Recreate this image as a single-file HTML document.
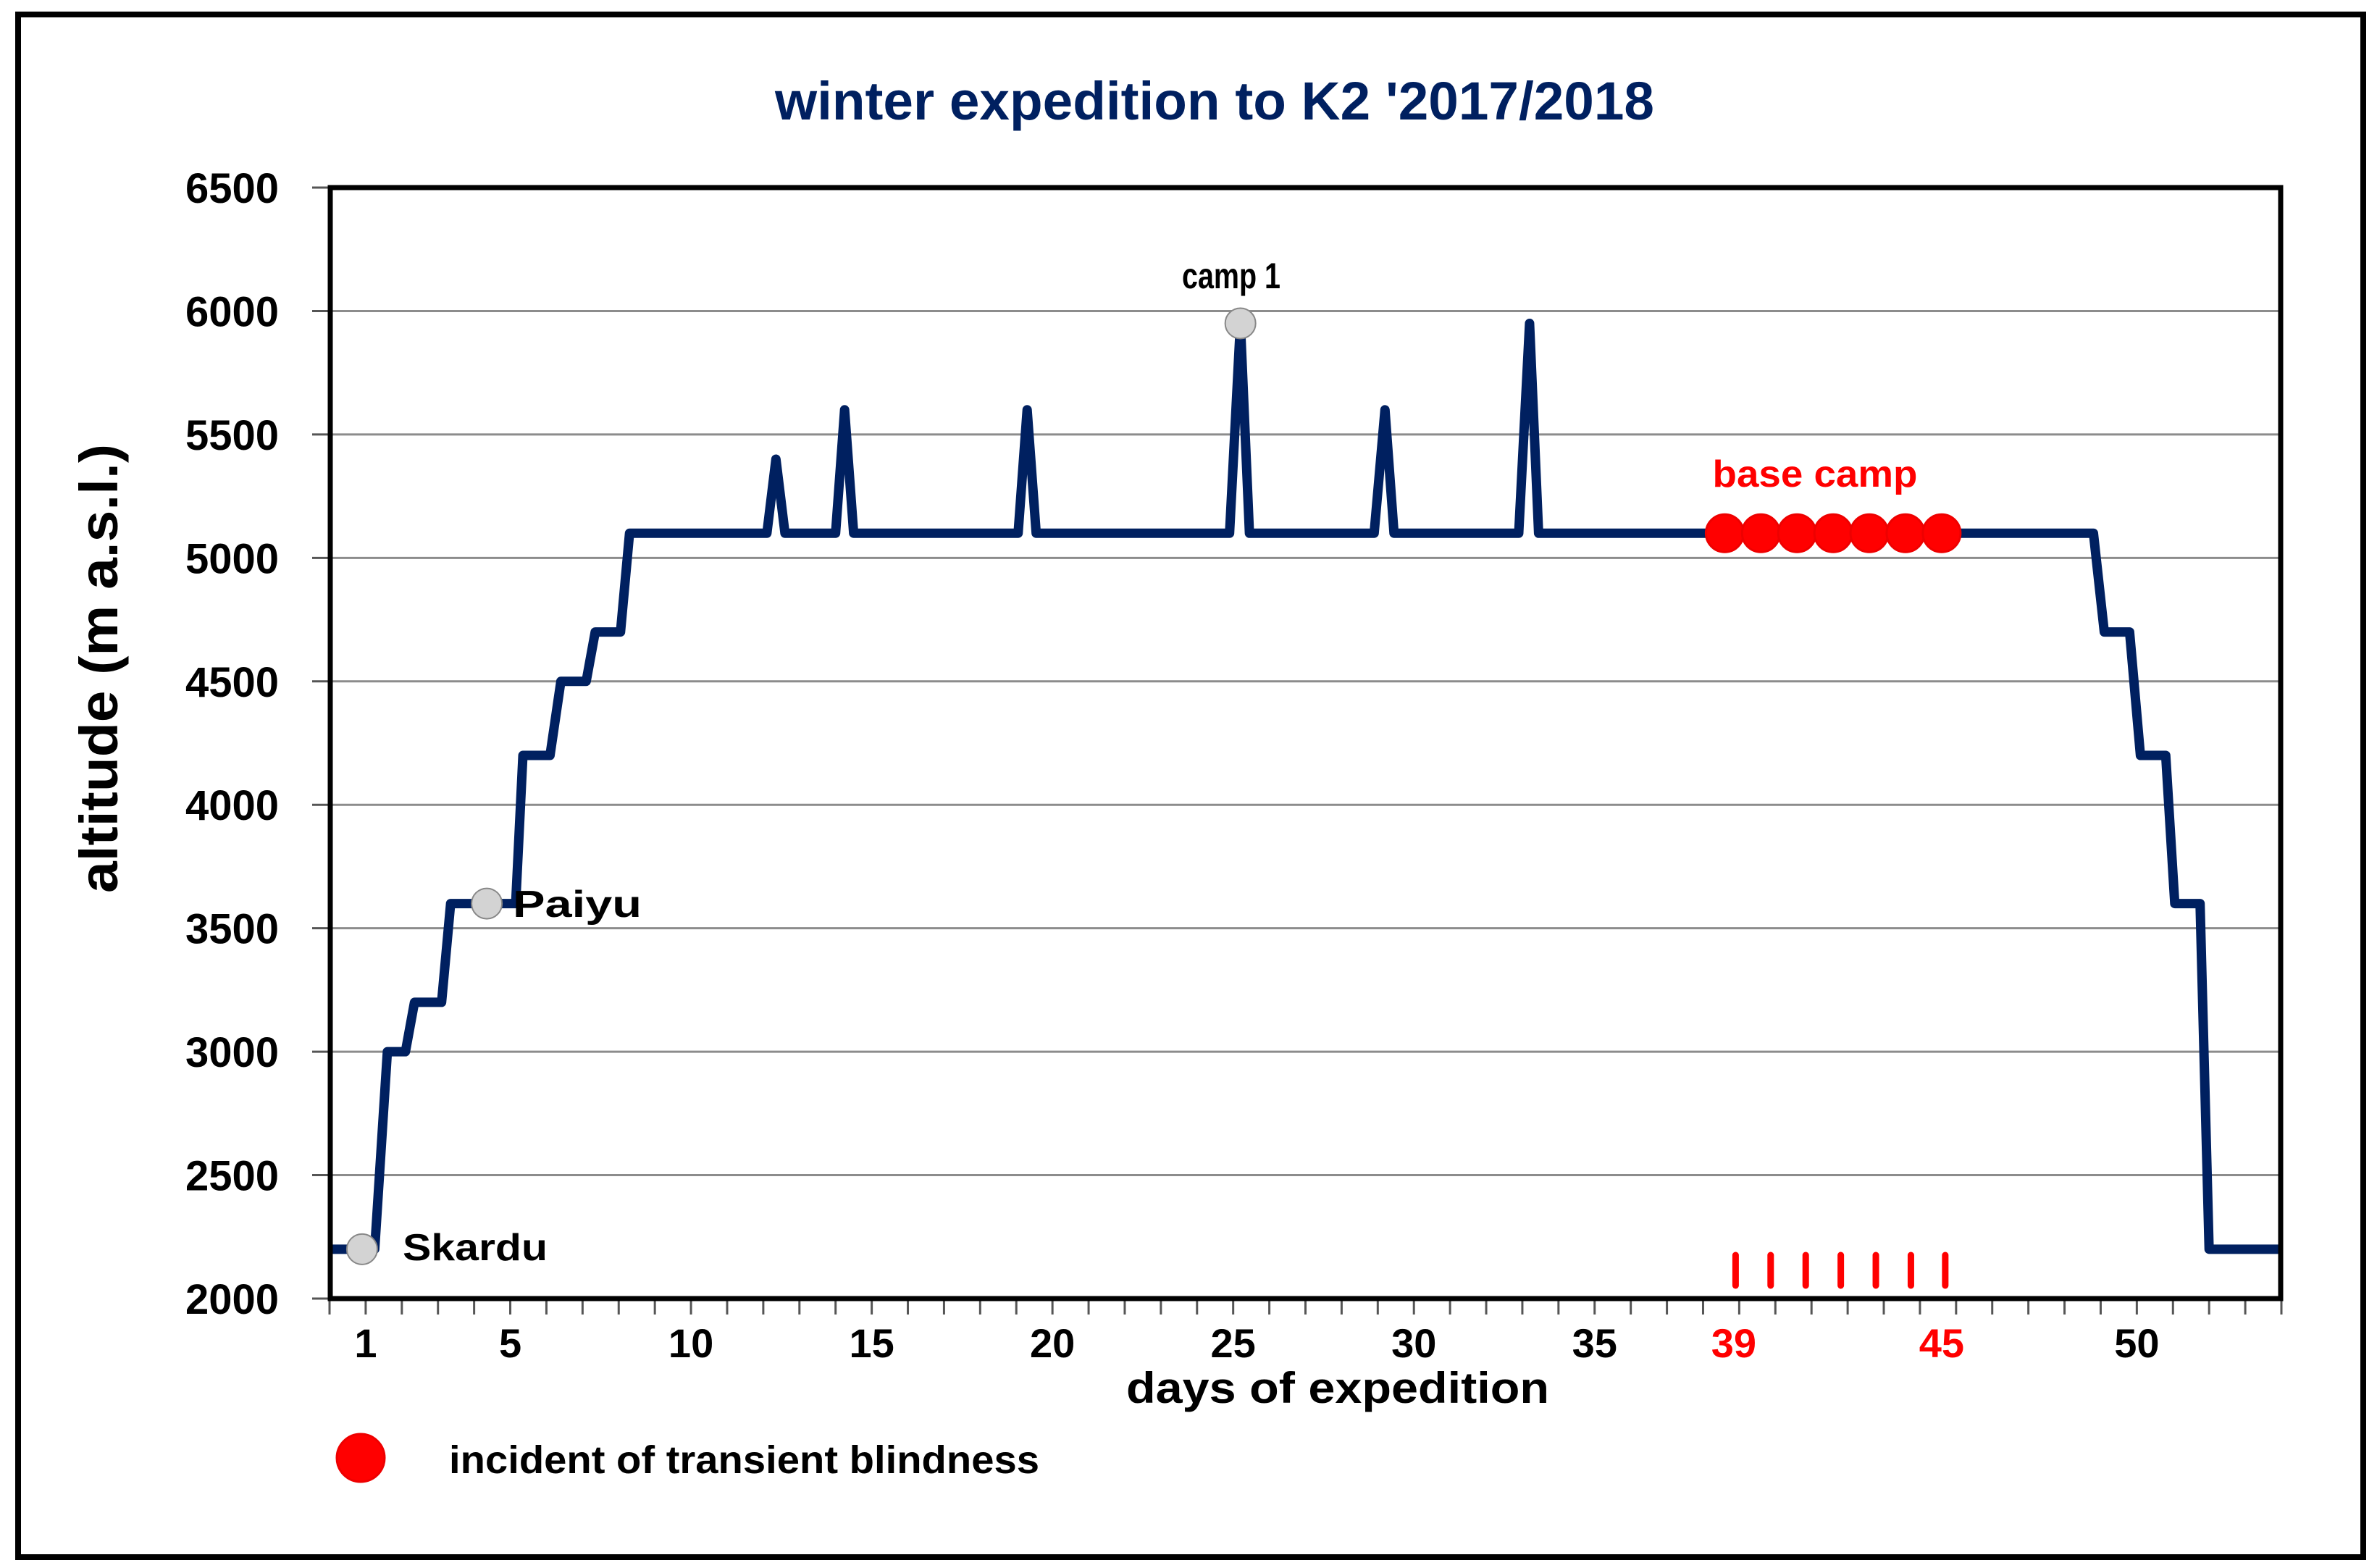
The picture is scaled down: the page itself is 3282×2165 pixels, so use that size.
<!DOCTYPE html>
<html><head><meta charset="utf-8"><style>
html,body{margin:0;padding:0;background:#fff}
svg{display:block}
text{font-family:"Liberation Sans",sans-serif;font-weight:bold}
</style></head><body>
<svg id="chart" width="3282" height="2165" viewBox="0 0 3282 2165" xmlns="http://www.w3.org/2000/svg">
<rect x="25" y="20" width="3238" height="2130" fill="#fff" stroke="#000" stroke-width="8"/>
<text x="1677" y="165" font-size="74" fill="#002060" text-anchor="middle" textLength="1214" lengthAdjust="spacingAndGlyphs">winter expedition to K2 '2017/2018</text>
<g id="grid"></g>
<g id="yaxis"></g>
<g id="xaxis"></g>
<g id="series"></g>
<rect x="456" y="259" width="2693" height="1534" fill="none" stroke="#000" stroke-width="7"/>
<text transform="translate(162,923) rotate(-90)" font-size="74" text-anchor="middle" fill="#000" textLength="620" lengthAdjust="spacingAndGlyphs">altitude (m a.s.l.)</text>
<text x="1847" y="1937" font-size="60" text-anchor="middle" fill="#000" textLength="584" lengthAdjust="spacingAndGlyphs">days of expedition</text>
<text x="1700" y="398" font-size="50" text-anchor="middle" fill="#000" textLength="136" lengthAdjust="spacingAndGlyphs">camp 1</text>
<text x="708" y="1266" font-size="52" fill="#000" textLength="178" lengthAdjust="spacingAndGlyphs">Paiyu</text>
<text x="556" y="1740" font-size="52" fill="#000" textLength="200" lengthAdjust="spacingAndGlyphs">Skardu</text>
<text x="2506" y="672" font-size="52" text-anchor="middle" fill="#f00" textLength="283" lengthAdjust="spacingAndGlyphs">base camp</text>
<ellipse cx="498" cy="2013" rx="33" ry="33" fill="#f00" stroke="#e00" stroke-width="3"/>
<text x="620" y="2034" font-size="54" fill="#000" textLength="815" lengthAdjust="spacingAndGlyphs">incident of transient blindness</text>
</svg>
<script>
const yTicks=[2000,2500,3000,3500,4000,4500,5000,5500,6000,6500];
const xLabels=[1,5,10,15,20,25,30,35,50];
const xRedLabels=[39,45];
const days=[0,1.25,1.6,2.1,2.35,3.1,3.35,5.15,5.35,6.1,6.4,7.1,7.35,8.05,8.3,12.1,12.35,12.6,14,14.25,14.5,19.05,19.3,19.55,24.9,25.2,25.45,28.9,29.2,29.45,32.9,33.2,33.45,48.8,49.1,49.8,50.1,50.8,51.05,51.75,52,54];
const altitude=[2200,2200,3000,3000,3200,3200,3600,3600,4200,4200,4500,4500,4700,4700,5100,5100,5400,5100,5100,5600,5100,5100,5600,5100,5100,5950,5100,5100,5600,5100,5100,5950,5100,5100,4700,4700,4200,4200,3600,3600,2200,2200];
const siteDays=[0.9,4.35,25.2];
const siteAlt=[2200,3600,5950];
const incidentDays=[38.6,39.6,40.6,41.6,42.6,43.6,44.6];
const incidentAlt=[5100,5100,5100,5100,5100,5100,5100];
const incidentTickDays=[38.9,39.87,40.84,41.81,42.78,43.75,44.7];
const redLabelDays=[38.85,44.6];

const X0=455,X1=3150,DMAX=54,Y0=1793,Y1=259,AMIN=2000,AMAX=6500;
const xs=d=>X0+(X1-X0)*d/DMAX;
const ys=a=>Y0-(Y0-Y1)*(a-AMIN)/(AMAX-AMIN);
const NS="http://www.w3.org/2000/svg";
function mk(tag,parent,attrs){const e=document.createElementNS(NS,tag);for(const k in attrs)e.setAttribute(k,attrs[k]);parent.appendChild(e);return e;}
const grid=document.getElementById('grid'),ya=document.getElementById('yaxis'),xa=document.getElementById('xaxis'),se=document.getElementById('series');
yTicks.forEach(v=>{
  const y=ys(v);
  if(v>AMIN&&v<AMAX){const g=mk('line',grid,{x1:X0,x2:X1,y1:y,y2:y,stroke:'#8c8c8c','stroke-width':3});
  
  }
  const t=mk('line',ya,{x1:X0-24,x2:X0,y1:y,y2:y,stroke:'#555','stroke-width':3});
  
  
  const l=mk('text',ya,{x:385,y:y+21,'font-size':58,'text-anchor':'end',fill:'#000'});
  l.textContent=v;
  
  
});
for(let d=0;d<=DMAX;d++){
  const t=mk('line',xa,{x1:xs(d),x2:xs(d),y1:Y0,y2:Y0+22,stroke:'#555','stroke-width':3});
  
  
}
xLabels.forEach(d=>{
  const l=mk('text',xa,{x:xs(d),y:1874,'font-size':56,'text-anchor':'middle',fill:'#000'});
  l.textContent=d;
  
  
});
xRedLabels.forEach((d,i)=>{
  const l=mk('text',xa,{x:xs(redLabelDays[i]),y:1874,'font-size':56,'text-anchor':'middle',fill:'#f00'});
  l.textContent=d;
  
  
});
incidentTickDays.forEach(d=>{
  const t=mk('line',se,{x1:xs(d),x2:xs(d),y1:1733,y2:1775,stroke:'#f00','stroke-width':9,'stroke-linecap':'round'});
  
  
});
const pts=days.map((d,i)=>xs(d)+','+ys(altitude[i])).join(' ');
const line=mk('polyline',se,{points:pts,fill:'none',stroke:'#002060','stroke-width':13,'stroke-linejoin':'round'});


siteDays.forEach((d,i)=>{
  const c=mk('circle',se,{cx:xs(d),cy:ys(siteAlt[i]),r:21,fill:'#d3d3d3',stroke:'#888','stroke-width':2});
  
  
});
incidentDays.forEach((d,i)=>{
  const c=mk('circle',se,{cx:xs(d),cy:ys(incidentAlt[i]),r:26,fill:'#f00',stroke:'#e00','stroke-width':3});
  
  
});
</script>
</body></html>
